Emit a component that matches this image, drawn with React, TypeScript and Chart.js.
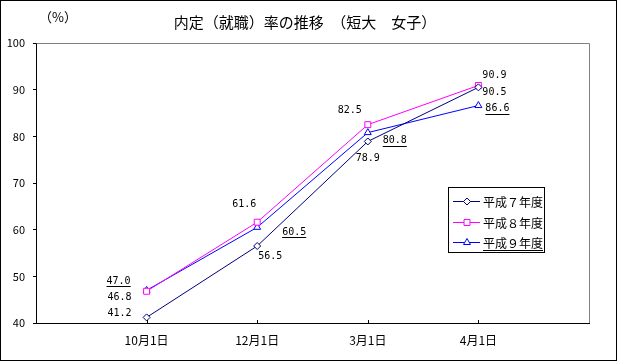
import React, { useEffect, useRef } from 'react';
import { Chart, registerables } from 'chart.js';

Chart.register(...registerables);

const title = '内定（就職）率の推移　（短大　女子）';
const unitLabel = '（%）';
const categories = ['10月1日', '12月1日', '3月1日', '4月1日'];
const seriesNames = ['平成７年度', '平成８年度', '平成９年度'];
const h7 = [41.2, 56.5, 78.9, 90.5];
const h8 = [46.8, 61.6, 82.5, 90.9];
const h9 = [47.0, 60.5, 80.8, 86.6];
const yMin = 40;
const yMax = 100;
const yStep = 10;

const JP = '"Noto Sans CJK JP", "Noto Sans", sans-serif';
const MONO = '"DejaVu Sans Mono", "Liberation Mono", monospace';

// style: label offsets relative to each point (pixels), underline flag
const labelStyle = [
  { offsets: [[-27, -4], [13, 10], [0, 17], [16, 5]], underline: false },
  { offsets: [[-27, 6], [-13, -18], [-18, -14], [16, -10]], underline: false },
  { offsets: [[-28, -9], [37, 5], [27, 8], [19, 3]], underline: true },
];
const seriesStyle = [
  { color: '#000080', marker: 'rectRot', radius: 3.5 },
  { color: '#FF00FF', marker: 'rect', radius: 4.2 },
  { color: '#0000FF', marker: 'triangle', radius: 4 },
];

function drawMarker(ctx: CanvasRenderingContext2D, kind: string, x: number, y: number, r: number, color: string) {
  ctx.save();
  ctx.beginPath();
  if (kind === 'rectRot') {
    ctx.moveTo(x, y - r);
    ctx.lineTo(x + r, y);
    ctx.lineTo(x, y + r);
    ctx.lineTo(x - r, y);
    ctx.closePath();
  } else if (kind === 'rect') {
    const s = r * Math.SQRT1_2;
    ctx.rect(x - s, y - s, 2 * s, 2 * s);
  } else {
    ctx.moveTo(x, y - r);
    ctx.lineTo(x + r * Math.sin(Math.PI * 2 / 3), y - r * Math.cos(Math.PI * 2 / 3));
    ctx.lineTo(x + r * Math.sin(Math.PI * 4 / 3), y - r * Math.cos(Math.PI * 4 / 3));
    ctx.closePath();
  }
  ctx.fillStyle = '#fff';
  ctx.fill();
  ctx.strokeStyle = color;
  ctx.lineWidth = 1;
  ctx.stroke();
  ctx.restore();
}

const decorPlugin = {
  id: 'decor',
  beforeDraw(chart: any) {
    const ctx = chart.ctx;
    ctx.save();
    ctx.fillStyle = '#fff';
    ctx.fillRect(0, 0, chart.width, chart.height);
    ctx.restore();
  },
  afterDraw(chart: any) {
    const ctx: CanvasRenderingContext2D = chart.ctx;
    const { left, right, top, bottom } = chart.chartArea;
    const xs = chart.scales.x;
    ctx.save();
    // grey top/right border
    ctx.strokeStyle = '#808080';
    ctx.lineWidth = 1;
    ctx.beginPath();
    ctx.moveTo(Math.round(left) + 0.5, Math.round(top) + 0.5);
    ctx.lineTo(Math.round(right) + 0.5, Math.round(top) + 0.5);
    ctx.lineTo(Math.round(right) + 0.5, Math.round(bottom));
    ctx.stroke();
    // x ticks (inside)
    ctx.strokeStyle = '#000';
    ctx.beginPath();
    for (let i = 1; i <= categories.length; i++) {
      const px = Math.round(xs.getPixelForValue(i)) + 0.5;
      ctx.moveTo(px, Math.round(bottom) - 3);
      ctx.lineTo(px, Math.round(bottom));
    }
    ctx.stroke();
    // title
    ctx.fillStyle = '#000';
    ctx.font = `15px ${JP}`;
    ctx.textAlign = 'center';
    ctx.textBaseline = 'middle';
    ctx.fillText(title, 305, 22);
    ctx.font = `13px ${JP}`;
    ctx.textAlign = 'left';
    ctx.fillText(unitLabel, 39, 17);
    // data labels
    ctx.font = `10px ${MONO}`;
    ctx.textAlign = 'center';
    ctx.textBaseline = 'middle';
    chart.data.datasets.forEach((ds: any, di: number) => {
      const meta = chart.getDatasetMeta(di);
      const st = labelStyle[di];
      let k = 0;
      ds.data.forEach((v: any, i: number) => {
        if (v === null) return;
        const el = meta.data[i];
        const [dx, dy] = st.offsets[k];
        k++;
        const tx = el.x + dx;
        const ty = el.y + dy;
        const txt = v.toFixed(1);
        ctx.fillText(txt, tx, ty);
        if (st.underline) {
          const w = ctx.measureText(txt).width;
          ctx.beginPath();
          ctx.moveTo(tx - w / 2, Math.round(ty + 5) + 0.5);
          ctx.lineTo(tx + w / 2, Math.round(ty + 5) + 0.5);
          ctx.strokeStyle = '#000';
          ctx.stroke();
        }
      });
    });
    // legend
    const lx = 448, ly = 187, lw = 96, lh = 65;
    ctx.fillStyle = '#fff';
    ctx.fillRect(lx, ly, lw, lh);
    ctx.strokeStyle = '#000';
    ctx.lineWidth = 1;
    ctx.strokeRect(lx + 0.5, ly + 0.5, lw, lh);
    ctx.font = `12px ${JP}`;
    ctx.textAlign = 'left';
    ctx.textBaseline = 'middle';
    const rows = [201, 222, 242];
    seriesNames.forEach((name, i) => {
      const y = rows[i];
      const s = seriesStyle[i];
      ctx.strokeStyle = s.color;
      ctx.beginPath();
      ctx.moveTo(453, y + 0.5);
      ctx.lineTo(480, y + 0.5);
      ctx.stroke();
      drawMarker(ctx, s.marker, 467, y + 0.5, s.radius, s.color);
      ctx.fillStyle = '#000';
      ctx.fillText(name, 483, y + 1);
      if (labelStyle[i].underline) {
        const w = ctx.measureText(name).width;
        ctx.strokeStyle = '#000';
        ctx.beginPath();
        ctx.moveTo(483, y + 8.5);
        ctx.lineTo(483 + w, y + 8.5);
        ctx.stroke();
      }
    });
    // outer frame
    ctx.strokeStyle = '#000';
    ctx.lineWidth = 1;
    ctx.strokeRect(0.5, 0.5, chart.width - 1, chart.height - 1);
    ctx.restore();
  },
};

export default function App() {
  const ref = useRef<HTMLCanvasElement | null>(null);
  useEffect(() => {
    if (!ref.current) return;
    const seriesData = [h7, h8, h9];
    const chart = new Chart(ref.current, {
      type: 'line',
      data: {
        labels: ['', ...categories, ''],
        datasets: seriesData.map((d, i) => ({
          label: seriesNames[i],
          data: [null, ...d, null],
          borderColor: seriesStyle[i].color,
          backgroundColor: '#fff',
          borderWidth: 1,
          pointStyle: seriesStyle[i].marker,
          pointRadius: seriesStyle[i].radius,
          pointBorderWidth: 1,
          pointBackgroundColor: '#fff',
          pointBorderColor: seriesStyle[i].color,
          fill: false,
          tension: 0,
          spanGaps: false,
        })),
      },
      options: {
        responsive: false,
        animation: false,
        devicePixelRatio: 1,
        layout: { padding: { left: 0, top: 43, right: 28, bottom: 0 } },
        plugins: { legend: { display: false }, title: { display: false }, tooltip: { enabled: false } },
        scales: {
          x: {
            type: 'category',
            offset: false,
            grid: { display: true, drawOnChartArea: false, drawTicks: false },
            border: { display: true, color: '#000', width: 1 },
            ticks: {
              autoSkip: false,
              maxRotation: 0,
              padding: 10,
              color: '#000',
              font: { family: JP, size: 12 },
            },
            afterFit: (s: any) => { s.height = 38; },
          },
          y: {
            min: yMin,
            max: yMax,
            grid: { drawOnChartArea: false, drawTicks: true, tickLength: 3, color: '#000' },
            border: { display: true, color: '#000', width: 1 },
            ticks: {
              stepSize: yStep,
              padding: 8,
              color: '#000',
              font: { family: JP, size: 11 },
            },
            afterFit: (s: any) => { s.width = 36; },
          },
        },
      },
      plugins: [decorPlugin],
    } as any);
    return () => chart.destroy();
  }, []);
  return (
    <div style={{ position: 'fixed', left: 0, top: 0, width: 617, height: 361 }}>
      <canvas ref={ref} width={617} height={361} style={{ display: 'block', width: 617, height: 361 }} />
    </div>
  );
}
